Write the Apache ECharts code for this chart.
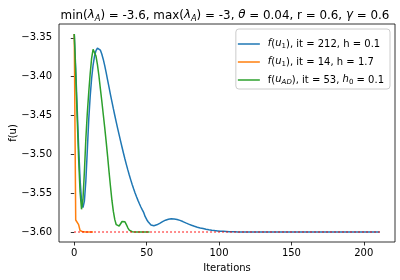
<!DOCTYPE html>
<html>
<head>
<meta charset="utf-8">
<script src="https://cdn.jsdelivr.net/npm/echarts@6/dist/echarts.min.js"></script>
<style>html,body{margin:0;padding:0;background:#fff}#c{width:400px;height:280px}</style>
</head>
<body>
<div id="c"></div>
<script>
// ---- data ----
const seriesNames = ['blue', 'orange', 'green'];
const legendLabels = {
  blue: '{it|f}({it|u}{sub|1}), it = 212, h = 0.1',
  orange: '{it|f}({it|u}{sub|1}), it = 14, h = 1.7',
  green: 'f({it|u}{subi|AD}), it = 53, {it|h}{sub|0} = 0.1'
};
const blueValues = [
  -3.345, -3.39, -3.44, -3.49, -3.532, -3.559, -3.5685, -3.56, -3.534, -3.495,
  -3.455, -3.425, -3.402, -3.385, -3.3735, -3.3665, -3.3633, -3.3634, -3.3658, -3.3708,
  -3.3775, -3.3855, -3.3945, -3.404, -3.4135, -3.423, -3.4322, -3.4412, -3.45, -3.4585,
  -3.4668, -3.475, -3.483, -3.4908, -3.4985, -3.506, -3.5132, -3.52, -3.5265, -3.5328,
  -3.5388, -3.5444, -3.5496, -3.5545, -3.5592, -3.5636, -3.5677, -3.5715, -3.575, -3.5802,
  -3.5838, -3.5867, -3.5892, -3.591, -3.5919, -3.5918, -3.5914, -3.5907, -3.5898, -3.5888,
  -3.5877, -3.5866, -3.5856, -3.5847, -3.584, -3.5835, -3.5832, -3.583, -3.583, -3.5831,
  -3.5834, -3.5838, -3.5843, -3.585, -3.5857, -3.5865, -3.5873, -3.5882, -3.589, -3.5898,
  -3.5906, -3.5913, -3.592, -3.5926, -3.5932, -3.5937, -3.5942, -3.5947, -3.5951, -3.5955,
  -3.5959, -3.5963, -3.5967, -3.597, -3.5973, -3.5976, -3.5979, -3.5981, -3.5983, -3.5985,
  -3.5987, -3.5989, -3.599, -3.5991, -3.5992, -3.5993, -3.5994, -3.5995, -3.5996, -3.5996,
  -3.5997, -3.5997, -3.5998, -3.5998, -3.5998, -3.5999, -3.5999, -3.5999, -3.5999, -3.5999,
  -3.5999, -3.5999, -3.5999, -3.5999, -3.5999, -3.5999, -3.5999, -3.5999, -3.5999, -3.5999,
  -3.5999, -3.6, -3.6, -3.6, -3.6, -3.6, -3.6, -3.6, -3.6, -3.6,
  -3.6, -3.6, -3.6, -3.6, -3.6, -3.6, -3.6, -3.6, -3.6, -3.6,
  -3.6, -3.6, -3.6, -3.6, -3.6, -3.6, -3.6, -3.6, -3.6, -3.6,
  -3.6, -3.6, -3.6, -3.6, -3.6, -3.6, -3.6, -3.6, -3.6, -3.6,
  -3.6, -3.6, -3.6, -3.6, -3.6, -3.6, -3.6, -3.6, -3.6, -3.6,
  -3.6, -3.6, -3.6, -3.6, -3.6, -3.6, -3.6, -3.6, -3.6, -3.6,
  -3.6, -3.6, -3.6, -3.6, -3.6, -3.6, -3.6, -3.6, -3.6, -3.6,
  -3.6, -3.6, -3.6, -3.6, -3.6, -3.6, -3.6, -3.6, -3.6, -3.6,
  -3.6, -3.6
];
const orangeValues = [
  -3.345, -3.5845, -3.5855, -3.5905, -3.598, -3.5993, -3.5997, -3.5998, -3.5999, -3.5999,
  -3.6, -3.6, -3.6, -3.6
];
const greenValues = [
  -3.345, -3.398, -3.452, -3.505, -3.548, -3.5707, -3.558, -3.522, -3.48, -3.447,
  -3.42, -3.396, -3.376, -3.3648, -3.3665, -3.3735, -3.3845, -3.3985, -3.415, -3.431,
  -3.448, -3.465, -3.483, -3.502, -3.522, -3.541, -3.559, -3.5735, -3.584, -3.5905,
  -3.5928, -3.5922, -3.5898, -3.5864, -3.5852, -3.5868, -3.5905, -3.5945, -3.5975, -3.599,
  -3.5996, -3.5998, -3.5999, -3.6, -3.6, -3.6, -3.6, -3.6, -3.6, -3.6,
  -3.6, -3.6, -3.6
];
const refLevel = -3.6;
const refRange = [0, 211];
const xTicks = [0, 50, 100, 150, 200];
const yTicks = [-3.60, -3.55, -3.50, -3.45, -3.40, -3.35];
const titleText = 'min({it|λ}{subi|A}) = -3.6, max({it|λ}{subi|A}) = -3, {it|θ} = 0.04, r = 0.6, {it|γ} = 0.6';
const xName = 'Iterations';
const yName = 'f(u)';
const colors = { blue: '#1f77b4', orange: '#ff7f0e', green: '#2ca02c' };

// ---- chart ----
const FONT = 'DejaVu Sans';
const FS = 10;
const TFS = 11.9;
const toPairs = arr => arr.map((v, i) => [i, v]);
const valueMap = { blue: blueValues, orange: orangeValues, green: greenValues };

const chart = echarts.init(document.getElementById('c'), null, { renderer: 'canvas' });
const richBase = (fs) => {
  const sub = { fontSize: fs * 0.7, fontFamily: FONT, color: '#000', padding: [fs * 0.5, 0, 0, 0], lineHeight: fs * 0.9, verticalAlign: 'top' };
  return {
    it: { fontStyle: 'italic', fontFamily: FONT, fontSize: fs, color: '#000', lineHeight: fs * 1.2, verticalAlign: 'top' },
    sub: sub,
    subi: Object.assign({}, sub, { fontStyle: 'italic' })
  };
};

const series = seriesNames.map(n => ({
  name: n,
  type: 'line',
  data: toPairs(valueMap[n]),
  showSymbol: false,
  symbol: 'none',
  lineStyle: { color: colors[n], width: 1.5 },
  itemStyle: { color: colors[n] },
  z: 2
}));
series.push({
  name: 'ref',
  type: 'line',
  data: refRange.map(x => [x, refLevel]),
  symbol: 'none',
  lineStyle: { color: '#ff0000', width: 1.5, type: [1.5, 2.5], opacity: 0.8 },
  z: 3
});

chart.setOption({
  animation: false,
  backgroundColor: '#fff',
  title: {
    text: titleText,
    left: 220,
    textAlign: 'center',
    top: 4,
    textStyle: {
      fontFamily: FONT, fontSize: TFS, fontWeight: 'normal', color: '#000',
      lineHeight: TFS * 1.2, verticalAlign: 'top',
      rich: richBase(TFS)
    }
  },
  legend: {
    data: seriesNames,
    orient: 'vertical',
    right: 10,
    top: 29,
    icon: 'rect',
    itemWidth: 22,
    itemHeight: 1.5,
    itemGap: 6,
    padding: [9, 6, 3, 2],
    backgroundColor: '#fff',
    borderColor: '#cccccc',
    borderWidth: 1,
    borderRadius: 3,
    formatter: n => legendLabels[n],
    textStyle: {
      fontFamily: FONT, fontSize: FS, color: '#000', lineHeight: FS * 1.2, verticalAlign: 'top',
      padding: [0, 0, 0, 3],
      rich: richBase(FS)
    }
  },
  grid: {
    left: 59, right: 5, top: 24, bottom: 38,
    outerBoundsMode: 'none',
    containLabel: false,
    show: true, borderColor: '#000', borderWidth: 0.8, backgroundColor: 'transparent'
  },
  xAxis: {
    type: 'value',
    min: -10.55,
    max: 221.55,
    name: xName,
    nameLocation: 'middle',
    nameGap: 21,
    nameMoveOverlap: false,
    nameTextStyle: { fontFamily: FONT, fontSize: FS, color: '#000' },
    axisLine: { show: false },
    splitLine: { show: false },
    axisTick: { show: true, length: 3.5, lineStyle: { color: '#000', width: 0.8 }, customValues: xTicks },
    axisLabel: { customValues: xTicks, margin: 6.5, fontFamily: FONT, fontSize: FS, color: '#000',
      formatter: v => String(v) }
  },
  yAxis: {
    type: 'value',
    min: -3.6128,
    max: -3.3322,
    name: yName,
    nameLocation: 'middle',
    nameRotate: 90,
    nameGap: 41,
    nameMoveOverlap: false,
    nameTextStyle: { fontFamily: FONT, fontSize: FS, color: '#000' },
    axisLine: { show: false },
    splitLine: { show: false },
    axisTick: { show: true, length: 3.5, lineStyle: { color: '#000', width: 0.8 }, customValues: yTicks },
    axisLabel: { customValues: yTicks, margin: 7, fontFamily: FONT, fontSize: FS, color: '#000',
      formatter: v => v.toFixed(2).replace('-', '\u2212') }
  },
  series: series
});
</script>
</body>
</html>
